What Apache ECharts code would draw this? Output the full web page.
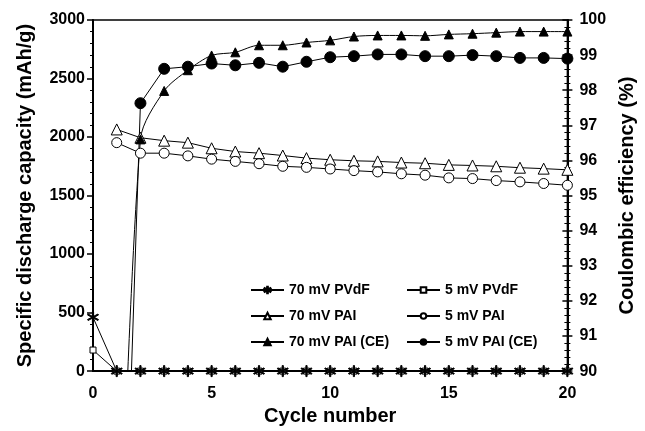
<!DOCTYPE html>
<html>
<head>
<meta charset="utf-8">
<script src="https://cdn.jsdelivr.net/npm/echarts@6/dist/echarts.min.js"></script>
<style>
  html, body { margin: 0; padding: 0; background: #fff; }
  #chart { width: 645px; height: 431px; }
</style>
</head>
<body>
<div id="chart"></div>
<script>
var cycles = [0, 1, 2, 3, 4, 5, 6, 7, 8, 9, 10, 11, 12, 13, 14, 15, 16, 17, 18, 19, 20];
var pvdf70 = [460, 0, 0, 0, 0, 0, 0, 0, 0, 0, 0, 0, 0, 0, 0, 0, 0, 0, 0, 0, 0];
var pvdf5 = [180, 0, 0, 0, 0, 0, 0, 0, 0, 0, 0, 0, 0, 0, 0, 0, 0, 0, 0, 0, 0];
var pai70 = [null, 2065, 1994, 1969, 1952, 1904, 1876, 1862, 1842, 1820, 1806, 1797, 1792, 1782, 1776, 1762, 1757, 1750, 1738, 1730, 1720];
var pai5 = [null, 1952, 1862, 1862, 1839, 1811, 1792, 1772, 1750, 1741, 1727, 1713, 1702, 1686, 1674, 1651, 1645, 1628, 1617, 1603, 1588];
var ce70 = [null, 81, 96.6, 97.98, 98.57, 98.99, 99.08, 99.28, 99.28, 99.36, 99.42, 99.53, 99.56, 99.56, 99.55, 99.59, 99.61, 99.64, 99.67, 99.67, 99.67];
var ce5 = [null, 77.5, 97.63, 98.61, 98.67, 98.76, 98.71, 98.78, 98.67, 98.81, 98.94, 98.97, 99.02, 99.02, 98.97, 98.97, 99.0, 98.97, 98.92, 98.92, 98.9];
var names = ['70 mV PVdF', '5 mV PVdF', '70 mV PAI', '5 mV PAI', '70 mV PAI (CE)', '5 mV PAI (CE)'];

var FONT = 'Liberation Sans, Arial, sans-serif';
// asterisk made of three thin bars
var star = 'path://M-0.5,-5L0.5,-5L0.5,5L-0.5,5Z' +
  'M4.58,2.067L4.08,2.933L-4.58,-2.067L-4.08,-2.933Z' +
  'M-4.58,2.067L-4.08,2.933L4.58,-2.067L4.08,-2.933Z';

function pairs(vals) {
  return cycles.map(function (c, i) { return [c, vals[i]]; });
}

function plain(v) { return String(v); }

function makeSeries(name, vals, axis, symbol, size, fill, smooth) {
  return {
    name: name,
    type: 'line',
    yAxisIndex: axis,
    data: pairs(vals),
    symbol: symbol,
    symbolSize: size,
    smooth: smooth || false,
    connectNulls: false,
    lineStyle: { color: '#000', width: 1 },
    itemStyle: { color: fill, borderColor: '#000', borderWidth: 1 },
    emphasis: { disabled: true }
  };
}

var legendText = { fontFamily: FONT, fontWeight: 'bold', fontSize: 14, color: '#000' };

var chart = echarts.init(document.getElementById('chart'));
var option = {
  animation: false,
  backgroundColor: '#fff',
  textStyle: { fontFamily: FONT },
  grid: {
    left: 93, right: 71, top: 20, bottom: 55,
    show: true, borderColor: '#000', borderWidth: 1.5
  },
  legend: [{
    data: [names[0], names[2], names[4]],
    orient: 'vertical',
    left: 250, top: 283, padding: 0,
    itemWidth: 33, itemHeight: 8, itemGap: 12,
    textStyle: legendText
  }, {
    data: [names[1], names[3], names[5]],
    orient: 'vertical',
    left: 406, top: 283, padding: 0,
    itemWidth: 33, itemHeight: 7, itemGap: 12,
    textStyle: legendText
  }],
  xAxis: {
    type: 'value',
    min: 0, max: 20, interval: 5,
    name: 'Cycle number',
    nameLocation: 'middle',
    nameGap: 26,
    nameTextStyle: { fontFamily: FONT, fontWeight: 'bold', fontSize: 20, color: '#000' },
    axisLine: { lineStyle: { color: '#000', width: 2 } },
    axisTick: { show: false },
    splitLine: { show: false },
    axisLabel: { margin: 14, fontFamily: FONT, fontWeight: 'bold', fontSize: 16, color: '#000' }
  },
  yAxis: [{
    type: 'value',
    min: 0, max: 3000, interval: 500,
    position: 'left',
    name: 'Specific discharge capacity (mAh/g)',
    nameLocation: 'middle',
    nameRotate: 90,
    nameGap: 58,
    nameTextStyle: { fontFamily: FONT, fontWeight: 'bold', fontSize: 20, color: '#000' },
    axisLine: { show: true, lineStyle: { color: '#000', width: 2 } },
    axisTick: { show: true, length: 6, lineStyle: { color: '#000', width: 1.5 } },
    minorTick: { show: true, splitNumber: 5, length: 3, lineStyle: { color: '#000' } },
    splitLine: { show: false },
    axisLabel: { margin: 8, formatter: plain, fontFamily: FONT, fontWeight: 'bold', fontSize: 16, color: '#000' }
  }, {
    type: 'value',
    min: 90, max: 100, interval: 1,
    position: 'right',
    name: 'Coulombic efficiency (%)',
    nameLocation: 'middle',
    nameRotate: 90,
    nameGap: 42,
    nameTextStyle: { fontFamily: FONT, fontWeight: 'bold', fontSize: 20, color: '#000', verticalAlign: 'top' },
    axisLine: { show: true, lineStyle: { color: '#000', width: 2 } },
    axisTick: { show: true, length: 5, lineStyle: { color: '#000', width: 1.5 } },
    minorTick: { show: true, splitNumber: 5, length: 3, lineStyle: { color: '#000' } },
    splitLine: { show: false },
    axisLabel: { margin: 12, fontFamily: FONT, fontWeight: 'bold', fontSize: 16, color: '#000' }
  }, {
    // same scale, ticks on the inner side so they cross the axis
    type: 'value',
    min: 90, max: 100, interval: 1,
    position: 'right',
    offset: 0,
    axisLine: { show: false },
    axisTick: { show: true, inside: true, length: 5, lineStyle: { color: '#000', width: 1.5 } },
    minorTick: { show: true, splitNumber: 5, length: 3, lineStyle: { color: '#000' } },
    splitLine: { show: false },
    axisLabel: { show: false }
  }],
  series: [
    makeSeries(names[1], pvdf5, 0, 'rect', 6, '#fff'),
    makeSeries(names[0], pvdf70, 0, star, 11, '#000'),
    makeSeries(names[2], pai70, 0, 'triangle', 11, '#fff'),
    makeSeries(names[3], pai5, 0, 'circle', 10, '#fff'),
    makeSeries(names[4], ce70, 1, 'triangle', 9, '#000', 0.3),
    makeSeries(names[5], ce5, 1, 'circle', 11, '#000')
  ]
};
chart.setOption(option);
</script>
</body>
</html>
